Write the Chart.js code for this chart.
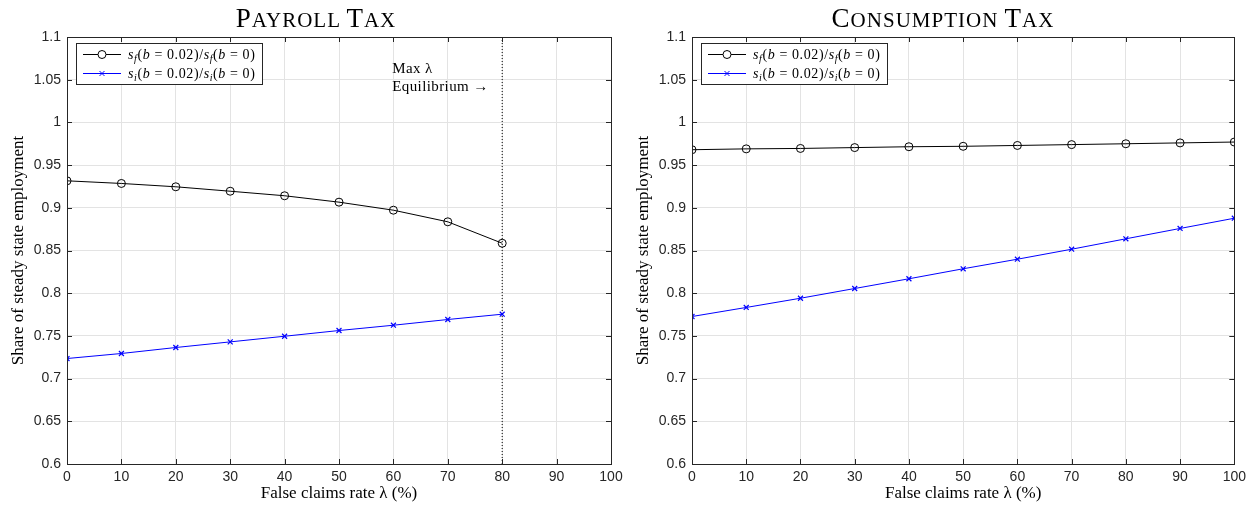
<!DOCTYPE html>
<html>
<head>
<meta charset="utf-8">
<script src="https://cdn.jsdelivr.net/npm/chart.js@4/dist/chart.umd.min.js"></script>
<style>
  body { margin:0; background:#fff; }
  #wrap { position:relative; width:1251px; height:506px; overflow:hidden; }
  .box { position:absolute; top:0; height:506px; }
  .ttl { position:absolute; top:3px; font-family:"Liberation Serif", serif; font-size:21px; letter-spacing:1px;
         color:#000; white-space:nowrap; transform:translateX(-50%); line-height:30px; }
  .ttl b { font-weight:normal; font-size:27px; }
</style>
</head>
<body>
<div id="wrap">
  <div class="box" style="left:0;width:640px"><canvas id="payroll"></canvas></div>
  <div class="box" style="left:625px;width:626px"><canvas id="consumption"></canvas></div>
  <div class="ttl" style="left:316px"><b>P</b>AYROLL <b>T</b>AX</div>
  <div class="ttl" style="left:943px"><b>C</b>ONSUMPTION <b>T</b>AX</div>
</div>
<script>
// data
const lambdaPayroll = [0, 10, 20, 30, 40, 50, 60, 70, 80];
const sfPayroll = [0.9316, 0.9285, 0.9246, 0.9194, 0.9141, 0.9066, 0.8972, 0.8836, 0.8585];
const siPayroll = [0.7235, 0.7294, 0.7364, 0.7430, 0.7496, 0.7563, 0.7625, 0.7692, 0.7754];

const lambdaConsumption = [0, 10, 20, 30, 40, 50, 60, 70, 80, 90, 100];
const sfConsumption = [0.968, 0.969, 0.9695, 0.9705, 0.9715, 0.972, 0.973, 0.974, 0.975, 0.976, 0.977];
const siConsumption = [0.7727, 0.7833, 0.7941, 0.8055, 0.8169, 0.8286, 0.8398, 0.8515, 0.8637, 0.8758, 0.8878];

const maxLambda = 80;
const xTicks = [0, 10, 20, 30, 40, 50, 60, 70, 80, 90, 100];
const yTicks = [0.6, 0.65, 0.7, 0.75, 0.8, 0.85, 0.9, 0.95, 1, 1.05, 1.1];

const AXIS = '#262626';
const BLUE = '#0000ff';
const SERIF = '"Liberation Serif", serif';
const SANS = '"Liberation Sans", Arial, sans-serif';

const pts = (xs, ys) => xs.map((x, i) => ({ x: x, y: ys[i] }));

// legend text pieces: [text, italic, subscript]
const legendRows = [
  { color: '#000', style: 'circle', radius: 4,
    parts: [['s',1,0],['f',1,1],['(',0,0],['b',1,0],[' = 0.02)/',0,0],['s',1,0],['f',1,1],['(',0,0],['b',1,0],[' = 0)',0,0]] },
  { color: BLUE, style: 'crossRot', radius: 3.5,
    parts: [['s',1,0],['i',1,1],['(',0,0],['b',1,0],[' = 0.02)/',0,0],['s',1,0],['i',1,1],['(',0,0],['b',1,0],[' = 0)',0,0]] }
];

const boxPlugin = {
  id: 'boxPlugin',
  afterDraw(chart) {
    const ctx = chart.ctx, a = chart.chartArea;
    const xs = chart.scales.x, ys = chart.scales.y;
    ctx.save();
    ctx.strokeStyle = AXIS;
    ctx.lineWidth = 1;
    ctx.strokeRect(Math.round(a.left) + 0.5, Math.round(a.top) + 0.5,
                   Math.round(a.right - a.left), Math.round(a.bottom - a.top));
    ctx.beginPath();
    const t = 5;
    xTicks.forEach(v => {
      const px = Math.round(xs.getPixelForValue(v)) + 0.5;
      ctx.moveTo(px, a.bottom); ctx.lineTo(px, a.bottom - t);
      ctx.moveTo(px, a.top); ctx.lineTo(px, a.top + t);
    });
    yTicks.forEach(v => {
      const py = Math.round(ys.getPixelForValue(v)) + 0.5;
      ctx.moveTo(a.left, py); ctx.lineTo(a.left + t, py);
      ctx.moveTo(a.right, py); ctx.lineTo(a.right - t, py);
    });
    ctx.stroke();

    // legend
    const lx = a.left + 9, ly = a.top + 6, lw = 186, lh = 41;
    ctx.fillStyle = '#fff';
    ctx.fillRect(lx, ly, lw, lh);
    ctx.strokeStyle = AXIS;
    ctx.strokeRect(lx + 0.5, ly + 0.5, lw, lh);
    legendRows.forEach((row, i) => {
      const y = ly + 11 + i * 19;
      ctx.strokeStyle = row.color;
      ctx.lineWidth = 1;
      ctx.beginPath();
      ctx.moveTo(lx + 7, y + 0.5); ctx.lineTo(lx + 45, y + 0.5);
      ctx.stroke();
      Chart.helpers.drawPoint(ctx, { pointStyle: row.style, radius: row.radius, borderWidth: 1 }, lx + 26, y + 0.5);
      let x = lx + 52;
      ctx.fillStyle = '#000';
      ctx.textBaseline = 'alphabetic';
      ctx.textAlign = 'left';
      ctx.letterSpacing = '0.6px';
      row.parts.forEach(p => {
        ctx.font = (p[1] ? 'italic ' : '') + (p[2] ? '10px ' : '14px ') + SERIF;
        ctx.fillText(p[0], x, y + 5 + (p[2] ? 3 : 0));
        x += ctx.measureText(p[0]).width;
      });
      ctx.letterSpacing = '0px';
    });
    ctx.restore();
  }
};

const notePlugin = {
  id: 'notePlugin',
  afterDraw(chart) {
    const ctx = chart.ctx;
    const px = chart.scales.x.getPixelForValue(maxLambda);
    ctx.save();
    ctx.fillStyle = '#000';
    ctx.font = '15px ' + SERIF;
    ctx.letterSpacing = '0.4px';
    ctx.textAlign = 'left';
    ctx.textBaseline = 'alphabetic';
    ctx.fillText('Max \u03bb', px - 110, 73);
    ctx.fillText('Equilibrium \u2192', px - 110, 91);
    ctx.letterSpacing = '0px';
    ctx.restore();
  }
};

function makeChart(id, xs, sf, si, padRight, withLine) {
  const datasets = [
    { data: pts(xs, sf), borderColor: '#000', backgroundColor: 'rgba(0,0,0,0)', borderWidth: 1,
      pointStyle: 'circle', pointRadius: 4, pointBorderWidth: 1, order: 2 },
    { data: pts(xs, si), borderColor: BLUE, backgroundColor: BLUE, borderWidth: 1,
      pointStyle: 'crossRot', pointRadius: 3.5, pointBorderWidth: 1.2, order: 1 }
  ];
  if (withLine) {
    datasets.push({ data: [{ x: maxLambda, y: yTicks[0] }, { x: maxLambda, y: yTicks[yTicks.length - 1] }],
      borderColor: '#000', borderWidth: 1, borderDash: [1, 2], pointRadius: 0, order: 3 });
  }
  return new Chart(document.getElementById(id), {
    type: 'line',
    data: { datasets: datasets },
    options: {
      responsive: true,
      maintainAspectRatio: false,
      animation: false,
      layout: { padding: { top: 37, right: padRight, left: 0, bottom: 0 } },
      plugins: { legend: { display: false }, tooltip: { enabled: false } },
      scales: {
        x: {
          type: 'linear', min: 0, max: 100,
          afterBuildTicks: s => { s.ticks = xTicks.map(v => ({ value: v })); },
          afterFit: s => { s.height = 42; },
          grid: { color: '#e3e3e3', drawTicks: false },
          border: { display: false },
          ticks: { color: AXIS, font: { family: SANS, size: 14 }, padding: 5, maxRotation: 0 },
          title: { display: true, text: 'False claims rate \u03bb (%)', color: '#000',
                   font: { family: SERIF, size: 17 }, padding: { top: 0, bottom: 2 } }
        },
        y: {
          min: 0.6, max: 1.1,
          afterBuildTicks: s => { s.ticks = yTicks.map(v => ({ value: v })); },
          afterFit: s => { s.width = 67; },
          grid: { color: '#e3e3e3', drawTicks: false },
          border: { display: false },
          ticks: { color: AXIS, font: { family: SANS, size: 14 }, padding: 6,
                   callback: v => String(Number(v.toFixed(2))) },
          title: { display: true, text: 'Share of steady state employment', color: '#000',
                   font: { family: SERIF, size: 17 }, padding: { top: 8, bottom: 0 } }
        }
      }
    },
    plugins: withLine ? [boxPlugin, notePlugin] : [boxPlugin]
  });
}

makeChart('payroll', lambdaPayroll, sfPayroll, siPayroll, 29, true);
makeChart('consumption', lambdaConsumption, sfConsumption, siConsumption, 15, false);
</script>
</body>
</html>
